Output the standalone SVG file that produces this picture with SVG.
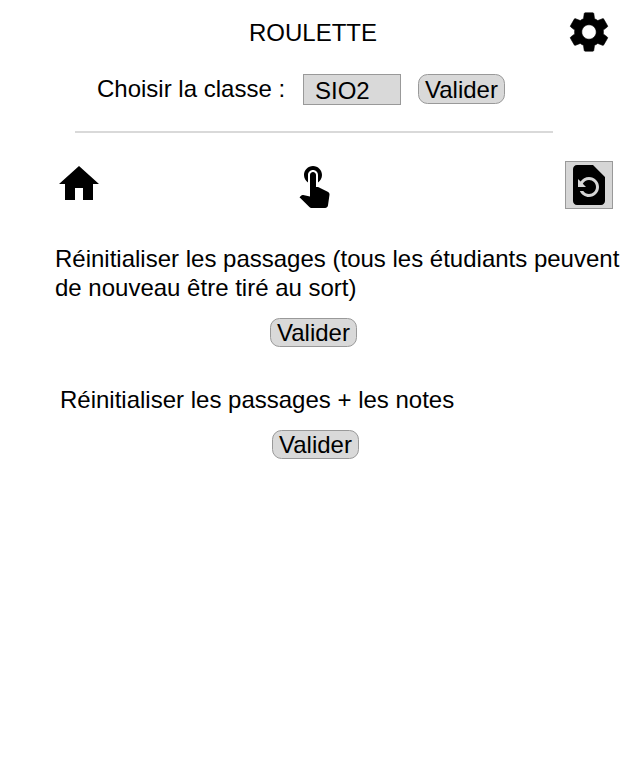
<svg xmlns="http://www.w3.org/2000/svg" width="627" height="770" viewBox="0 0 627 770">
<style>
text{font-family:"Liberation Sans",Arial,sans-serif;font-size:24px;fill:#000}
.btn{fill:#d9d9d9;stroke:#999;stroke-width:1}
.ctr{text-anchor:middle}
</style>
<rect width="627" height="770" fill="#fff"/>
<text id="title" x="313" y="41" class="ctr">ROULETTE</text>
<g id="settings"><path transform="translate(565 8) scale(2)" stroke="#000" stroke-width=".3" d="M19.14 12.94c.04-.3.06-.61.06-.94 0-.32-.02-.64-.07-.94l2.03-1.58c.18-.14.23-.41.12-.61l-1.92-3.32c-.12-.22-.37-.29-.59-.22l-2.39.96c-.5-.38-1.03-.7-1.62-.94l-.36-2.54c-.04-.24-.24-.41-.48-.41h-3.84c-.24 0-.43.17-.47.41l-.36 2.54c-.59.24-1.13.57-1.62.94l-2.39-.96c-.22-.08-.47 0-.59.22L2.74 8.87c-.12.21-.08.47.12.61l2.03 1.58c-.05.3-.09.63-.09.94s.02.64.07.94l-2.03 1.58c-.18.14-.23.41-.12.61l1.92 3.32c.12.22.37.29.59.22l2.39-.96c.5.38 1.03.7 1.62.94l.36 2.54c.05.24.24.41.48.41h3.84c.24 0 .44-.17.47-.41l.36-2.54c.59-.24 1.13-.56 1.62-.94l2.39.96c.22.08.47 0 .59-.22l1.92-3.32c.12-.22.07-.47-.12-.61l-2.01-1.58zM12 15.6c-1.98 0-3.6-1.62-3.6-3.6s1.62-3.6 3.6-3.6 3.6 1.62 3.6 3.6-1.62 3.6-3.6 3.6z"/></g>
<text id="choose-label" x="97" y="97">Choisir la classe :</text>
<g id="class-select"><rect class="btn" x="303.500" y="74.500" width="97" height="30"/><text x="315" y="99">SIO2</text></g>
<g id="class-validate"><rect class="btn" x="418.500" y="74.500" width="86" height="29" rx="9"/><text x="461.500" y="98" class="ctr">Valider</text></g>
<line id="separator" x1="75" y1="132" x2="553" y2="132" stroke="#ccc" stroke-width="1.500"/>
<g id="home"><path transform="translate(55 160) scale(2)" d="M10 20v-6h4v6h5v-8h3L12 3 2 12h3v8z"/></g>
<g id="touch"><path transform="translate(290 160) scale(2)" d="M9 11.24V7.500C9 6.120 10.120 5 11.500 5S14 6.120 14 7.500v3.740c1.210-.81 2-2.180 2-3.740C16 5.010 13.990 3 11.500 3S7 5.010 7 7.500c0 1.560.79 2.930 2 3.740zm9.840 4.630l-4.540-2.260c-.17-.07-.35-.11-.54-.11H13v-6c0-.83-.67-1.500-1.500-1.500S10 6.670 10 7.500v10.740l-3.430-.72c-.08-.01-.15-.03-.24-.03-.31 0-.59.13-.79.33l-.79.8 4.940 4.940c.27.27.65.44 1.060.44h6.790c.75 0 1.330-.55 1.440-1.280l.75-5.270c.01-.07.02-.14.02-.2 0-.62-.38-1.160-.91-1.380z"/></g>
<g id="restore"><rect x="565.500" y="161.500" width="47" height="47" fill="#d6d6d6" stroke="#999"/><path transform="translate(565 161) scale(2)" d="M14 2H6c-1.100 0-1.990.9-1.990 2L4 20c0 1.100.89 2 1.990 2H18c1.100 0 2-.9 2-2V8l-6-6zm-2 16c-2.050 0-3.810-1.240-4.580-3h1.710c.63.9 1.680 1.500 2.870 1.500 1.930 0 3.500-1.570 3.500-3.500S13.930 9.500 12 9.500c-1.350 0-2.520.78-3.100 1.900l1.600 1.600h-4V9l1.300 1.300C8.690 8.920 10.230 8 12 8c2.760 0 5 2.240 5 5s-2.240 5-5 5z"/></g>
<text id="reset-1" x="55" y="267">Réinitialiser les passages (tous les étudiants peuvent</text>
<text id="reset-2" x="55" y="296">de nouveau être tiré au sort)</text>
<g id="validate-1"><rect class="btn" x="270.500" y="318.500" width="86" height="28" rx="9"/><text x="313.500" y="341" class="ctr">Valider</text></g>
<text id="reset-3" x="60" y="408">Réinitialiser les passages + les notes</text>
<g id="validate-2"><rect class="btn" x="272.500" y="430.500" width="86" height="28" rx="9"/><text x="315.500" y="453" class="ctr">Valider</text></g>
</svg>
